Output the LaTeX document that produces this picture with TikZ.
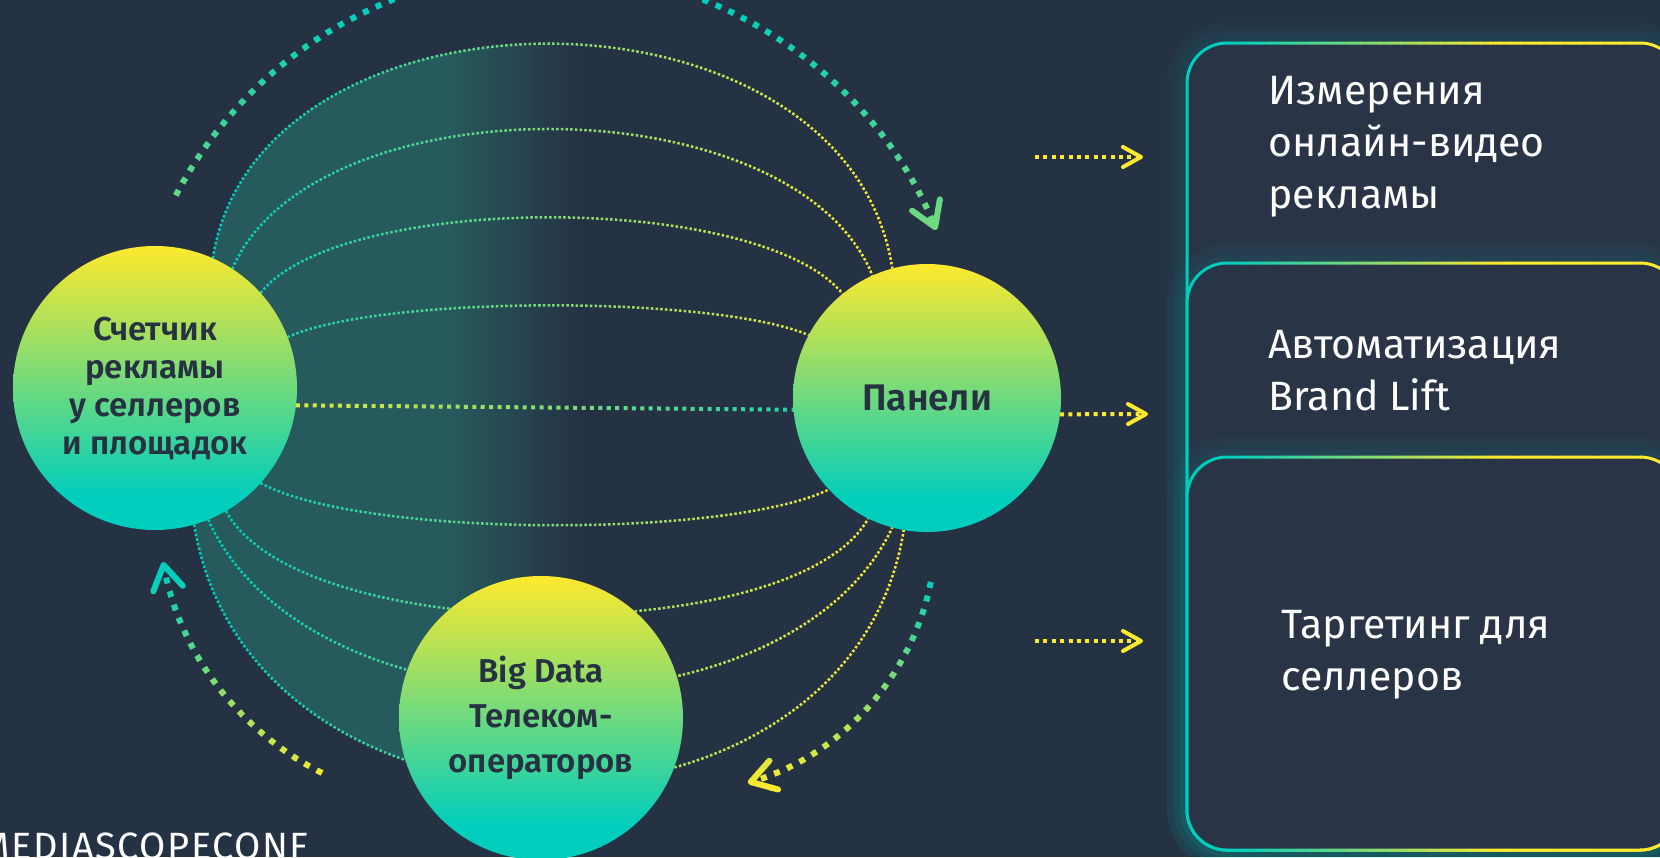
\documentclass[tikz,border=0pt]{standalone}
\usepackage{fontspec}
\setmainfont{Fira Sans}[BoldFont={Fira Sans SemiBold}]
\usetikzlibrary{arrows.meta}
\pgfdeclarelayer{bgl}
\pgfdeclarelayer{mid}
\pgfsetlayers{bgl,mid,main}

\definecolor{bg}{RGB}{37,50,68}
\definecolor{cTeal}{RGB}{0,206,189}
\definecolor{cYellow}{RGB}{253,233,45}
\definecolor{shadeC}{RGB}{38,90,92}
\definecolor{boxfill}{RGB}{41,52,71}
\definecolor{txtdark}{RGB}{38,49,66}

\pgfdeclareverticalshading{ballshade}{100bp}{color(0bp)=(cTeal); color(25bp)=(cTeal); color(31bp)=(cTeal); color(75bp)=(cYellow); color(100bp)=(cYellow)}

\newcommand{\drawpanelbox}[1]{%
  \foreach \w in {20,13,7}{\draw[cTeal, opacity=0.035, line width=\w pt, rounded corners=20pt] (1187,#1) rectangle (1680,850);}
  \fill[boxfill, rounded corners=20pt] (1187,#1) rectangle (1680,850);
  \foreach \xx in {1180,1190,...,1690}{
    \pgfmathtruncatemacro\f{max(0,min(100,(\xx+5-1230)/2.7))}
    \begin{scope}
      \clip (\xx,-10) rectangle (\xx+10.6,870);
      \draw[line width=1.5pt, color=cYellow!\f!cTeal, rounded corners=20pt] (1187,#1) rectangle (1680,850);
    \end{scope}}%
}

\begin{document}
\begin{tikzpicture}[x=0.5pt, y=-0.5pt,
  ball/.style={circle, shade, shading=ballshade, minimum size=#1, inner sep=0pt, outer sep=0pt, text=txtdark, align=center},
  thinarc/.style={line width=1.25pt, dash pattern=on 1.25pt off 1.1pt},
  midline/.style={line width=2pt, dash pattern=on 2pt off 2.2pt},
  bigarc/.style={line width=3pt, dash pattern=on 3pt off 4pt, -{Straight Barb[length=12pt,width=15pt,round]}},
  rarrow/.style={cYellow, line width=2pt, dash pattern=on 2pt off 2.2pt, -{Straight Barb[length=9pt,width=10pt,round]}},
  boxtext/.style={anchor=base west, inner sep=0pt, text=white, align=left, font=\fontsize{20.5}{26}\selectfont}
]
\useasboundingbox (0,0) rectangle (1660,857);
\begin{pgfonlayer}{bgl}
  \fill[bg] (0,0) rectangle (1660,857);
\end{pgfonlayer}

% circles
\node[ball=142pt, font=\bfseries\fontsize{16.5}{19}\selectfont] (L) at (155,388) {Счетчик\\рекламы\\у селлеров\\и площадок};
\node[ball=134pt, font=\bfseries\fontsize{18.5}{20}\selectfont] (P) at (927,398) {Панели};
\node[ball=142pt, font=\bfseries\fontsize{16.5}{22.5}\selectfont] (D) at (541,718) {Big Data\\Телеком-\\операторов};

% shaded lens
\begin{pgfonlayer}{bgl}
  \begin{scope}
    \clip (L.66) .. controls +(46,-288) and +(-46,-298) .. (P.105) -- (P.260) .. controls +(-54,340) and +(56,345) .. (L.-74) -- cycle;
    \fill[shadeC] (100,0) rectangle (452,857);
    \shade[left color=shadeC, right color=bg] (450,0) rectangle (580,857);
  \end{scope}
\end{pgfonlayer}

\begin{pgfonlayer}{mid}
  % thin arcs and middle line, coloured by x
  \foreach \xx in {150,160,...,950}{
    \pgfmathtruncatemacro\f{max(0,min(100,(\xx+5-220)/6.6))}
    \pgfmathtruncatemacro\g{100-\f}
    \begin{scope}
      \clip (\xx,-50) rectangle (\xx+10.6,900);
      \draw[thinarc, color=cYellow!\f!cTeal] (L.66) .. controls +(46,-288) and +(-46,-298) .. (P.105);
      \draw[thinarc, color=cYellow!\f!cTeal] (L.57) .. controls +(80,-188) and +(-79,-194) .. (P.114);
      \draw[thinarc, color=cYellow!\f!cTeal] (L.42) .. controls +(80,-101) and +(-83,-102) .. (P.129);
      \draw[thinarc, color=cYellow!\f!cTeal] (L.21) .. controls +(92,-42) and +(-94,-40) .. (P.152);
      \draw[thinarc, color=cYellow!\f!cTeal] (L.-42) .. controls +(100,55) and +(-99,49) .. (P.223);
      \draw[thinarc, color=cYellow!\f!cTeal] (L.-60) .. controls +(74,137) and +(-72,130) .. (P.244);
      \draw[thinarc, color=cYellow!\f!cTeal] (L.-68) .. controls +(102,225) and +(-102,218) .. (P.255);
      \draw[thinarc, color=cYellow!\f!cTeal] (L.-74) .. controls +(56,345) and +(-54,340) .. (P.260);
      \draw[midline, color=cYellow!\g!cTeal] (L.-7) -- (P.185);
    \end{scope}}

  % big cycle arrows
  \coordinate (cT) at (548,390);
  \coordinate (cR) at (672,530);
  \coordinate (cLft) at (455.5,507);
  \foreach \yy in {-40,-30,...,250}{
    \pgfmathtruncatemacro\f{max(0,min(100,(\yy+5)*0.2))}
    \begin{scope}
      \clip (0,\yy) rectangle (1660,\yy+10.6);
      \draw[bigarc, color=cYellow!\f!cTeal] (cT) ++(-152.4:420) arc[start angle=-152.4, end angle=-22.4, radius=420];
    \end{scope}}
  \foreach \yy in {540,550,...,800}{
    \pgfmathtruncatemacro\f{max(0,min(100,(\yy+5-578)/2.07))}
    \begin{scope}
      \clip (0,\yy) rectangle (1660,\yy+10.6);
      \draw[bigarc, color=cYellow!\f!cTeal] (cR) ++(11.35:264) arc[start angle=11.35, end angle=73.3, radius=264];
      \draw[bigarc, color=cYellow!\f!cTeal] (cLft) ++(116.65:297.6) arc[start angle=116.65, end angle=169.35, radius=297.6];
    \end{scope}}

  % arrows to the boxes
  \coordinate (r1a) at (1035,157);
  \coordinate (r1b) at (1143,157);
  \coordinate (r2b) at (1148,414);
  \coordinate (r3a) at (1035,641);
  \coordinate (r3b) at (1143,641);
  \draw[rarrow] (r1a) -- (r1b);
  \draw[rarrow] (P.-7) -- (r2b);
  \draw[rarrow] (r3a) -- (r3b);
\end{pgfonlayer}

% boxes
\drawpanelbox{43}
\drawpanelbox{263}
\drawpanelbox{457}

\node[boxtext] (t1) at (1268,208) {Измерения\\онлайн-видео\\рекламы};
\node[boxtext] (t2) at (1268,410) {Автоматизация\\Brand Lift};
\node[boxtext] (t3) at (1281,690) {Таргетинг для\\селлеров};

\node[anchor=base west, text=white, inner sep=0pt, font=\fontsize{19}{19}\selectfont\addfontfeatures{LetterSpace=4}] (brand) at (-20,859) {MEDIASCOPECONF};
\end{tikzpicture}
\end{document}
